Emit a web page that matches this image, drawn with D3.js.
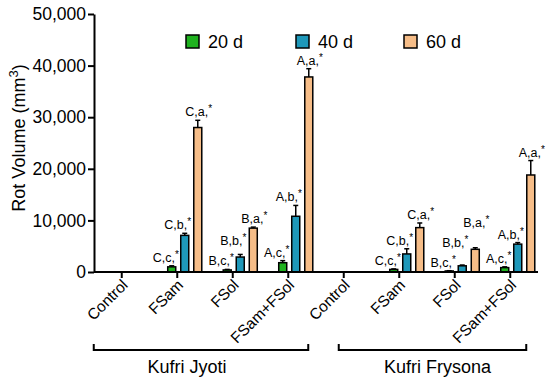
<!DOCTYPE html>
<html>
<head>
<meta charset="utf-8">
<script src="https://cdn.jsdelivr.net/npm/d3@7"></script>
<style>
  body { margin: 0; background: #fff; }
  text { font-family: Arial, "Liberation Sans", sans-serif; fill: #000; }
</style>
</head>
<body>
<svg width="550" height="379"></svg>
<script>
// categories (x positions), two cultivars of four treatments each
const categories = ["Control", "FSam", "FSol", "FSam+FSol", "Control ", "FSam ", "FSol ", "FSam+FSol "];
const series = ["20 d", "40 d", "60 d"];
const colors = ["#1fb21f", "#1e98ba", "#f6bd88"];

// means, one array per series
const d20 = [0, 1000, 400, 1800, 0, 500, 200, 850];
const d40 = [0, 7100, 2900, 10800, 0, 3500, 1200, 5400];
const d60 = [0, 28000, 8500, 37800, 0, 8600, 4400, 18800];

// error (SD)
const e20 = [0, 200, 100, 400, 0, 100, 50, 150];
const e40 = [0, 400, 500, 2100, 0, 1000, 150, 300];
const e60 = [0, 1400, 200, 1600, 0, 900, 300, 2800];

// letters above the bars
const l20 = ["", "C,c,", "B,c,", "A,c,", "", "C,c,", "B,c,", "A,c,"];
const l40 = ["", "C,b,", "B,b,", "A,b,", "", "C,b,", "B,b,", "A,b,"];
const l60 = ["", "C,a,", "B,a,", "A,a,", "", "C,a,", "B,a,", "A,a,"];

const groups = [
  {name: "Kufri Jyoti", from: "Control", to: "FSam+FSol"},
  {name: "Kufri Frysona", from: "Control ", to: "FSam+FSol "}
];

const yTicks = [0, 10000, 20000, 30000, 40000, 50000];

const values = [d20, d40, d60], errors = [e20, e40, e60], letters = [l20, l40, l60];

const svg = d3.select("svg");

const x = d3.scaleBand().domain(categories).range([94, 538]);
const xs = d3.scaleBand().domain(series).range([-12, 27]).paddingInner(0.385).paddingOuter(0.19);
const y = d3.scaleLinear().domain([0, 50000]).range([272, 14]);

const tickX = c => x(c) + x.bandwidth() / 2;

// bars
const rows = [];
categories.forEach((c, i) => {
  let prev = Infinity;
  series.forEach((s, j) => {
    const r = {c: c, s: s, j: j, v: values[j][i], e: errors[j][i], l: letters[j][i]};
    // letters sit above the error cap, stacked so they do not collide
    r.ly = Math.min(y(r.v + r.e) - 4, prev - 20);
    prev = r.ly;
    rows.push(r);
  });
});

const g = svg.append("g");

g.selectAll("rect.bar")
  .data(rows.filter(d => d.v > 0))
  .enter().append("rect")
  .attr("class", "bar")
  .attr("x", d => tickX(d.c) + xs(d.s))
  .attr("y", d => y(d.v))
  .attr("width", xs.bandwidth())
  .attr("height", d => y(0) - y(d.v))
  .attr("fill", d => colors[d.j])
  .attr("stroke", "#000")
  .attr("stroke-width", 1.5);

// error bars (upper only)
const eb = g.selectAll("g.err")
  .data(rows.filter(d => d.e > 0))
  .enter().append("g")
  .attr("class", "err")
  .attr("transform", d => "translate(" + (tickX(d.c) + xs(d.s) + xs.bandwidth() / 2) + ",0)");

eb.append("line")
  .attr("y1", d => y(d.v)).attr("y2", d => y(d.v + d.e))
  .attr("stroke", "#000").attr("stroke-width", 1.5);
eb.append("line")
  .attr("x1", -2.5).attr("x2", 2.5)
  .attr("y1", d => y(d.v + d.e)).attr("y2", d => y(d.v + d.e))
  .attr("stroke", "#000").attr("stroke-width", 1.5);

// letters
const dx = [-6, -7, 1];
const lab = g.selectAll("text.lab")
  .data(rows.filter(d => d.l !== ""))
  .enter().append("text")
  .attr("class", "lab")
  .attr("x", d => tickX(d.c) + xs(d.s) + xs.bandwidth() / 2 + dx[d.j])
  .attr("y", d => d.ly)
  .attr("text-anchor", "middle")
  .style("font-size", "12.5px");
lab.append("tspan").text(d => d.l);
lab.append("tspan").attr("dy", -4).style("font-size", "10px").text("*");

// y axis
const yAxis = svg.append("g")
  .attr("transform", "translate(94,0)")
  .call(d3.axisLeft(y).tickValues(yTicks).tickFormat(d3.format(",")).tickSize(6).tickSizeOuter(0));
yAxis.select(".domain").attr("stroke-width", 2).attr("stroke", "#000");
yAxis.selectAll(".tick line").attr("stroke-width", 2).attr("stroke", "#000");
yAxis.selectAll(".tick text").attr("x", -8).style("font-size", "17.5px").style("font-family", "Arial, 'Liberation Sans', sans-serif");

// x axis
const xAxis = svg.append("g")
  .attr("transform", "translate(0," + y(0) + ")")
  .call(d3.axisBottom(x).tickSize(6).tickSizeOuter(0).tickFormat(d => d.trim()));
xAxis.select(".domain").attr("stroke-width", 2).attr("stroke", "#000").attr("d", "M94,0H538");
xAxis.selectAll(".tick line").attr("stroke-width", 2).attr("stroke", "#000");
xAxis.selectAll(".tick text")
  .style("font-size", "15.5px")
  .style("font-family", "Arial, 'Liberation Sans', sans-serif")
  .attr("text-anchor", "end")
  .attr("dy", 0)
  .attr("transform", "translate(7,14) rotate(-45)")
  .attr("y", 0);

// y label
svg.append("text")
  .attr("transform", "translate(25,138) rotate(-90)")
  .attr("text-anchor", "middle")
  .style("font-size", "18px")
  .text("Rot Volume (mm")
  .append("tspan").attr("dy", -7).style("font-size", "13px").text("3")
  .select(function() { return this.parentNode; })
  .append("tspan").attr("dy", 7).text(")");

// legend
const leg = svg.append("g").selectAll("g")
  .data(series)
  .enter().append("g")
  .attr("transform", (d, i) => "translate(" + [186, 296, 404][i] + ",35)");
leg.append("rect")
  .attr("width", 13).attr("height", 13)
  .attr("fill", (d, i) => colors[i])
  .attr("stroke", "#000").attr("stroke-width", 1.5);
leg.append("text")
  .attr("x", 22).attr("y", 13)
  .style("font-size", "18px")
  .text(d => d);

// group brackets
const gb = svg.append("g").selectAll("g")
  .data(groups)
  .enter().append("g");
const bx0 = (d, i) => tickX(d.from) - [28, 5][i];
const bx1 = (d, i) => tickX(d.to) + [20, 16][i];
gb.append("path")
  .attr("d", (d, i) => "M" + bx0(d, i) + ",344V350H" + bx1(d, i) + "V344")
  .attr("fill", "none").attr("stroke", "#000").attr("stroke-width", 2);
gb.append("text")
  .attr("x", (d, i) => (bx0(d, i) + bx1(d, i)) / 2 + [-14, 5][i])
  .attr("y", 373)
  .attr("text-anchor", "middle")
  .style("font-size", "18px")
  .text(d => d.name);
</script>
</body>
</html>
